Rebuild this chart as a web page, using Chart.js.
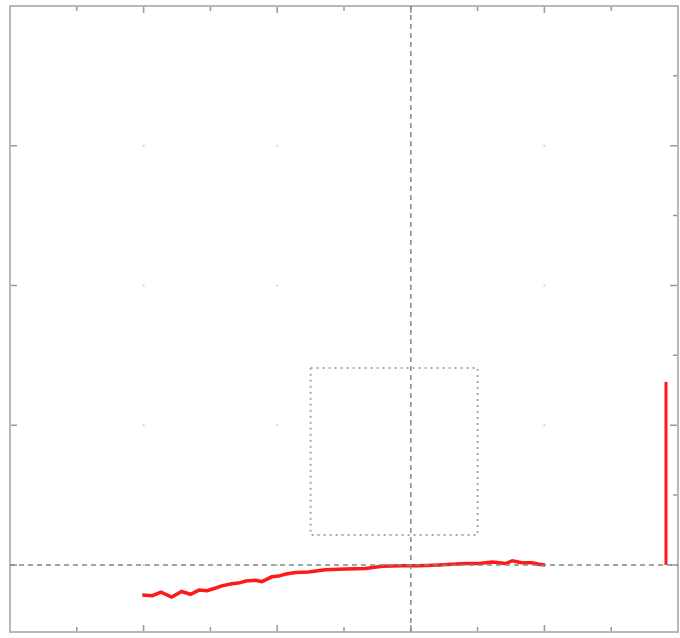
<!DOCTYPE html>
<html>
<head>
<meta charset="utf-8">
<script src="https://cdn.jsdelivr.net/npm/chart.js@4/dist/chart.umd.min.js"></script>
<style>
  html, body { margin: 0; padding: 0; background: #fff; }
  #wrap { width: 680px; height: 638px; }
</style>
</head>
<body>
<div id="wrap"><canvas id="plot" width="680" height="638"></canvas></div>
<script>
// trajectory (red)
var curveX = [-4.02, -3.87, -3.74, -3.58, -3.43, -3.30, -3.17, -3.05, -2.92, -2.83, -2.68, -2.58, -2.47, -2.32, -2.23, -2.08, -1.98, -1.87, -1.72, -1.53, -1.28, -0.98, -0.68, -0.43, -0.13, 0.12, 0.42, 0.62, 0.82, 1.02, 1.22, 1.32, 1.42, 1.52, 1.66, 1.81, 1.92, 2.01];
var curveY = [-0.43, -0.44, -0.39, -0.46, -0.38, -0.42, -0.36, -0.37, -0.33, -0.30, -0.27, -0.26, -0.23, -0.22, -0.24, -0.17, -0.16, -0.13, -0.11, -0.10, -0.07, -0.06, -0.05, -0.02, -0.01, -0.01, 0.00, 0.01, 0.02, 0.02, 0.04, 0.03, 0.02, 0.06, 0.03, 0.03, 0.01, 0.00];
// vertical red bar on the right
var spikeX = [3.82, 3.82];
var spikeY = [0, 2.62];
// dotted box
var boxX = [-1.5, 1.0, 1.0, -1.5, -1.5];
var boxY = [2.82, 2.82, 0.43, 0.43, 2.82];
// axis limits and ticks
var xRange = [-6, 4];
var yRange = [-0.96, 8];
var xTicks = [-5, -4, -3, -2, -1, 0, 1, 2, 3];
var yTicks = [0, 1, 2, 3, 4, 5, 6, 7];
var xGrid = [-4, -2, 0, 2];
var yGrid = [0, 2, 4, 6];

function pts(xs, ys) {
  var out = [];
  for (var i = 0; i < xs.length; i++) out.push({x: xs[i], y: ys[i]});
  return out;
}

// frame, inward ticks and dotted grid like the matlab axes
var framePlugin = {
  id: 'frame',
  beforeDatasetsDraw: function(chart) {
    var ctx = chart.ctx, a = chart.chartArea;
    var sx = chart.scales.x, sy = chart.scales.y;
    ctx.save();
    // grid dots at major intersections
    ctx.fillStyle = '#d4d4d4';
    xGrid.forEach(function(gx) {
      yGrid.forEach(function(gy) {
        ctx.fillRect(sx.getPixelForValue(gx) - 1, sy.getPixelForValue(gy) - 1, 2, 2);
      });
    });
    ctx.strokeStyle = '#9a9a9a';
    ctx.lineWidth = 1.5;
    ctx.beginPath();
    xTicks.forEach(function(t) {
      var px = sx.getPixelForValue(t);
      var len = (t % 2 === 0) ? 7 : 5;
      ctx.moveTo(px, a.bottom); ctx.lineTo(px, a.bottom - len);
      ctx.moveTo(px, a.top); ctx.lineTo(px, a.top + len);
    });
    yTicks.forEach(function(t) {
      var py = sy.getPixelForValue(t);
      var major = (t % 2 === 0);
      if (major) { ctx.moveTo(a.left, py); ctx.lineTo(a.left + 7, py); }
      ctx.moveTo(a.right, py); ctx.lineTo(a.right - (major ? 8 : 5), py);
    });
    ctx.stroke();
    ctx.strokeStyle = '#b8b8b8';
    ctx.lineWidth = 2;
    ctx.strokeRect(a.left, a.top, a.right - a.left, a.bottom - a.top);
    ctx.restore();
  }
};

new Chart(document.getElementById('plot'), {
  type: 'scatter',
  data: {
    datasets: [
      {
        data: pts([xRange[0], xRange[1]], [0, 0]),
        showLine: true, borderColor: '#888888', borderWidth: 1.5,
        borderDash: [5, 4], pointRadius: 0
      },
      {
        data: pts([0, 0], [yRange[0], yRange[1]]),
        showLine: true, borderColor: '#888888', borderWidth: 1.5,
        borderDash: [5, 4], pointRadius: 0
      },
      {
        data: pts(boxX, boxY),
        showLine: true, borderColor: '#a8a8a8', borderWidth: 2,
        borderDash: [2, 4], pointRadius: 0
      },
      {
        data: pts(curveX, curveY),
        showLine: true, borderColor: '#ff1a1a', borderWidth: 3.5,
        pointRadius: 0, tension: 0
      },
      {
        data: pts(spikeX, spikeY),
        showLine: true, borderColor: '#ff1a1a', borderWidth: 3,
        pointRadius: 0
      }
    ]
  },
  options: {
    responsive: false,
    animation: false,
    layout: { padding: { left: 10, right: 2, top: 6, bottom: 6 } },
    plugins: { legend: { display: false }, tooltip: { enabled: false } },
    scales: {
      x: { type: 'linear', min: xRange[0], max: xRange[1], display: false },
      y: { type: 'linear', min: yRange[0], max: yRange[1], display: false }
    }
  },
  plugins: [framePlugin]
});
</script>
</body>
</html>
